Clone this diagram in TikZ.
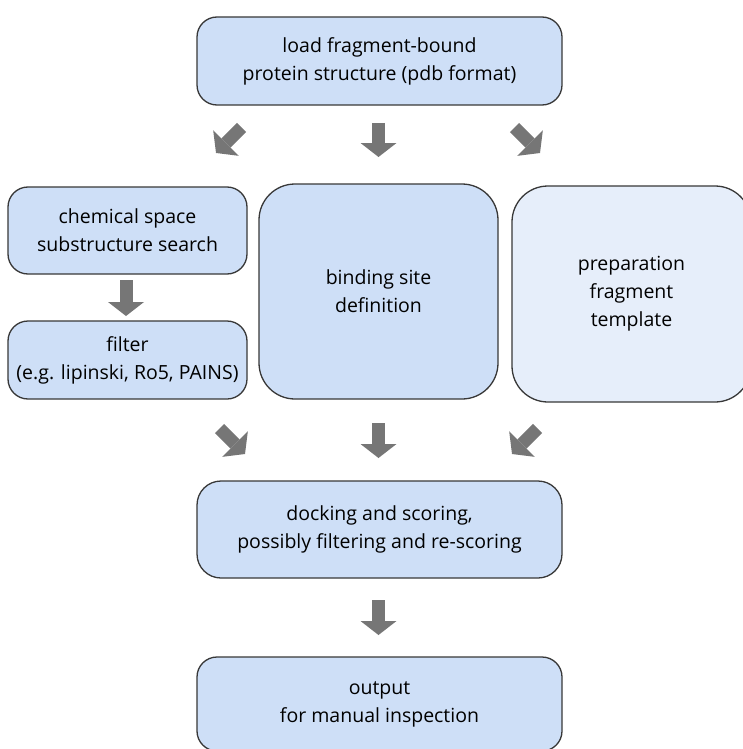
\documentclass[tikz,border=0pt]{standalone}
\usepackage{fontspec}
\setmainfont{Open Sans}
\usetikzlibrary{arrows.meta}

\definecolor{boxblue}{HTML}{CEDFF7}
\definecolor{boxpale}{HTML}{E6EEFA}
\definecolor{arrowgray}{HTML}{767676}
\definecolor{edgegray}{HTML}{383838}

\begin{document}
\begin{tikzpicture}[x=1pt, y=-1pt,
    step_box/.style={draw=edgegray, line width=1.3pt, fill=boxblue, rounded corners=20pt, align=center, inner sep=0pt, font=\fontsize{19.5}{28}\selectfont},
    fat_arrow/.style={draw=arrowgray, line width=13pt, -{Triangle[length=14pt, width=36pt, line width=0pt]}}]
    \clip (0,0) rectangle (743,749);

    \node[step_box, minimum width=365pt, minimum height=88pt] (load) at (379.5, 61) {load fragment-bound\\protein structure (pdb format)};

    \node[step_box, minimum width=239pt, minimum height=87pt] (chem) at (127.5, 230.5) {chemical space\\substructure search};
    \node[step_box, minimum width=239pt, minimum height=78pt] (filter) at (127.5, 360) {filter\\(e.g. lipinski, Ro5, PAINS)};
    \node[step_box, minimum width=239pt, minimum height=215pt, rounded corners=36pt] (site) at (378.5, 291.5) {binding site\\definition};
    \node[step_box, fill=boxpale, minimum width=239pt, minimum height=216pt, rounded corners=36pt] (prep) at (631.5, 294) {preparation\\fragment\\template};

    \node[step_box, minimum width=365pt, minimum height=97pt, rounded corners=24pt] (dock) at (379.5, 529.5) {docking and scoring,\\possibly filtering and re-scoring};
    \node[step_box, minimum width=365pt, minimum height=94pt] (out) at (379.5, 704) {output\\for manual inspection};

    % block arrows
    \coordinate (load_l) at (241.5, 127.5);  \coordinate (to_chem) at (216, 153);
    \coordinate (load_m) at (378.5, 123);    \coordinate (to_site) at (378.5, 157);
    \coordinate (load_r) at (514.5, 127.5);  \coordinate (to_prep) at (540, 153);
    \coordinate (chem_s) at (126, 280);      \coordinate (to_filter) at (126, 316);
    \coordinate (filter_s) at (219.5, 428.5); \coordinate (to_dock_l) at (245, 454);
    \coordinate (site_s) at (378.5, 423);    \coordinate (to_dock_m) at (378.5, 458);
    \coordinate (prep_s) at (537.5, 428.5);  \coordinate (to_dock_r) at (512, 454);
    \coordinate (dock_s) at (378.5, 600);    \coordinate (to_out) at (378.5, 635);

    \draw[fat_arrow] (load_l) -- (to_chem);
    \draw[fat_arrow] (load_m) -- (to_site);
    \draw[fat_arrow] (load_r) -- (to_prep);
    \draw[fat_arrow] (chem_s) -- (to_filter);
    \draw[fat_arrow] (filter_s) -- (to_dock_l);
    \draw[fat_arrow] (site_s) -- (to_dock_m);
    \draw[fat_arrow] (prep_s) -- (to_dock_r);
    \draw[fat_arrow] (dock_s) -- (to_out);
\end{tikzpicture}
\end{document}
